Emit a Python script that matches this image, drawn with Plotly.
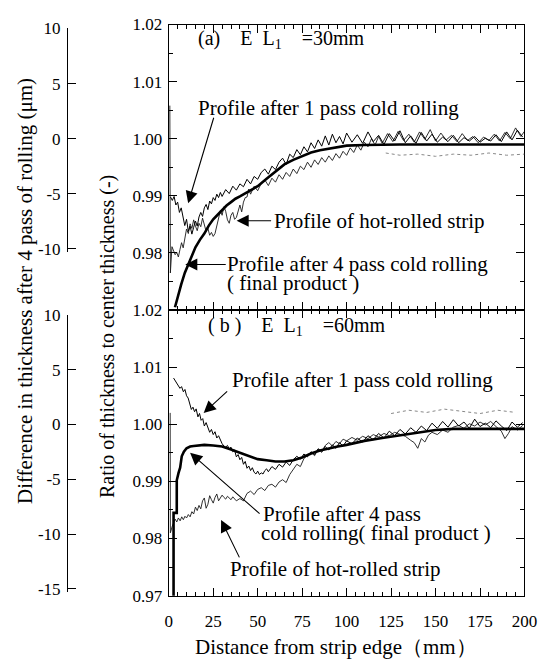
import plotly.graph_objects as go

FONT = "Liberation Serif, Times New Roman, serif"
W, H = 552, 661

# ---------------- Panel (a): EL1 = 30 mm ----------------
a_final_x = [3.5, 5, 7, 9, 11, 13, 15, 17.5, 20, 22.5, 25, 27.5, 30, 32.5, 35, 37.5, 40, 45, 50, 55,
             60, 65, 70, 75, 80, 85, 90, 95, 100, 110, 120, 130, 140, 150, 160, 170, 180, 190, 200]
a_final_y = [0.9705, 0.9724, 0.9745, 0.9765, 0.9781, 0.9796, 0.9810, 0.9823, 0.9834, 0.9848, 0.9859,
             0.9867, 0.9875, 0.9883, 0.9889, 0.9895, 0.9899, 0.9908, 0.9917, 0.9930, 0.9943, 0.9955,
             0.9963, 0.9970, 0.9976, 0.9980, 0.9983, 0.9986, 0.9988, 0.9989, 0.9990, 0.9990, 0.9990,
             0.9990, 0.9990, 0.9990, 0.9990, 0.9990, 0.9990]

a_pass1_x = [1, 2, 3, 4, 5, 6, 7, 8, 9, 10, 11, 12, 13, 14, 15, 16, 17, 18, 19, 20, 21, 22, 23, 24, 25,
             26, 27, 28, 29, 30, 32, 34, 36, 38, 40, 42, 44, 46, 48, 50, 52, 54, 56, 58, 60, 62, 64, 66,
             68, 70, 72, 74, 76, 78, 80, 82, 84, 86, 88, 90, 92, 94, 96, 98, 100, 103, 106, 109, 112,
             115, 118, 121, 124, 127, 130, 133, 136, 139, 142, 145, 148, 151, 154, 157, 160, 163, 166,
             169, 172, 175, 178, 181, 184, 187, 190, 193, 196, 199]
a_pass1_y = [0.9898, 0.9892, 0.9899, 0.9884, 0.9889, 0.9871, 0.9879, 0.9861, 0.9848, 0.9859, 0.9838,
             0.9847, 0.9833, 0.9845, 0.9856, 0.9847, 0.9863, 0.9871, 0.9864, 0.9879, 0.9885, 0.9876,
             0.9891, 0.9886, 0.9897, 0.9892, 0.9903, 0.9897, 0.9906, 0.9899, 0.9911, 0.9904, 0.9917,
             0.9910, 0.9921, 0.9916, 0.9929, 0.9921, 0.9934, 0.9929, 0.9941, 0.9947, 0.9938, 0.9952,
             0.9946, 0.9959, 0.9966, 0.9955, 0.9973, 0.9967, 0.9981, 0.9972, 0.9986, 0.9977, 0.9993,
             0.9983, 0.9998, 0.9987, 1.0005, 0.9989, 1.0008, 0.9993, 1.0004, 0.9991, 1.0010, 0.9994,
             1.0007, 0.9992, 1.0012, 0.9995, 1.0006, 0.9990, 1.0009, 0.9996, 1.0014, 0.9993, 1.0005,
             0.9992, 1.0011, 0.9996, 1.0008, 0.9994, 1.0003, 0.9995, 1.0006, 0.9993, 1.0002, 0.9996,
             1.0004, 0.9994, 1.0001, 0.9996, 1.0007, 0.9995, 1.0012, 0.9998, 1.0015, 1.0003]

a_hot_x = [0.6, 0.9, 1.8, 2.7, 3.6, 4.5, 5.4, 6.3, 7.2, 8.1, 9, 10, 11, 12, 13, 14, 15, 16, 17, 18, 19,
           20, 21, 22, 23, 24, 25, 26, 27, 28, 29, 30, 31, 32, 33, 34, 35, 36, 37, 38, 39, 40, 41, 42,
           43, 44, 45, 46, 48, 50, 52, 54, 56, 58, 60, 62, 64, 66, 68, 70, 72, 74, 76, 78, 80, 82, 84,
           86, 88, 90, 92, 94, 96, 98, 100, 102, 104, 106, 108, 110, 112, 114, 116, 118, 120, 123, 126,
           129, 132, 135, 138, 141, 144, 147, 150, 153, 156, 159, 162, 165, 168, 171, 174, 177, 180,
           183, 186, 189, 192, 195, 198, 200]
a_hot_y = [1.0058, 0.9765, 0.9811, 0.9803, 0.9797, 0.9801, 0.9793, 0.9806, 0.9818, 0.9809, 0.9829,
           0.9842, 0.9834, 0.9851, 0.9843, 0.9858, 0.9847, 0.9839, 0.9852, 0.9846, 0.9861, 0.9849,
           0.9838, 0.9843, 0.9831, 0.9836, 0.9829, 0.9834, 0.9848, 0.9861, 0.9874, 0.9866, 0.9881,
           0.9873, 0.9858, 0.9852, 0.9866, 0.9871, 0.9859, 0.9862, 0.9876, 0.9884, 0.9872, 0.9889,
           0.9897, 0.9898, 0.9912, 0.9903, 0.9917, 0.9909, 0.9922, 0.9928, 0.9918, 0.9931, 0.9924,
           0.9937, 0.9929, 0.9941, 0.9934, 0.9947, 0.9939, 0.9952, 0.9946, 0.9959, 0.9950, 0.9963,
           0.9955, 0.9967, 0.9959, 0.9970, 0.9962, 0.9974, 0.9966, 0.9978, 0.9971, 0.9984, 0.9976,
           0.9989, 0.9980, 0.9994, 0.9986, 1.0000, 0.9989, 1.0004, 0.9992, 1.0009, 0.9995, 1.0013,
           0.9997, 1.0008, 0.9994, 1.0012, 0.9999, 1.0016, 0.9996, 1.0010, 0.9998, 1.0006, 0.9995,
           1.0009, 0.9997, 1.0004, 0.9993, 1.0003, 0.9997, 1.0008, 0.9996, 1.0011, 1.0000, 1.0019,
           1.0004, 1.0013]

# faint dotted difference trace (um, left axis)
a_diff_x = [122, 130, 140, 150, 160, 170, 180, 190, 200]
a_diff_y = [-1.3, -1.5, -1.4, -1.6, -1.4, -1.5, -1.3, -1.5, -1.4]

# ---------------- Panel (b): EL1 = 60 mm ----------------
b_final_x = [2.7, 2.7, 4.5, 4.5, 5.5, 6.4, 7.3, 8.5, 10, 12, 14, 16.4, 20, 25, 30, 35, 40, 45, 50, 55,
             60, 65, 70, 75, 80, 85, 90, 95, 100, 110, 120, 130, 140, 150, 160, 170, 180, 190, 200]
b_final_y = [0.9694, 0.9845, 0.9845, 0.9902, 0.9915, 0.9924, 0.9944, 0.9952, 0.9958, 0.9961, 0.9962,
             0.9963, 0.9964, 0.9963, 0.9961, 0.9956, 0.9950, 0.9944, 0.9939, 0.9937, 0.9935, 0.9935,
             0.9937, 0.9942, 0.9949, 0.9954, 0.9958, 0.9961, 0.9964, 0.9971, 0.9976, 0.9981, 0.9986,
             0.9990, 0.9992, 0.9992, 0.9992, 0.9992, 0.9992]

b_pass1_x = [2.7, 3.6, 4.5, 5.4, 6.3, 7.2, 8.2, 9.1, 10, 10.9, 11.8, 12.7, 13.6, 14.5, 15.4, 16.4, 17.3,
             18.2, 19.1, 20, 21, 22, 23, 24, 25, 26, 27, 28, 29, 30, 31, 32, 33, 34, 35, 36, 37, 38,
             39, 40, 41, 42, 43, 44, 45, 46, 47, 48, 49, 50, 51, 52, 53, 54, 55, 56, 58, 60, 62, 64,
             66, 68, 70, 72, 74, 76, 78, 80, 82, 84, 86, 88, 90, 92, 94, 96, 98, 100, 103, 106, 109,
             112, 115, 118, 121, 124, 127, 130, 133, 136, 139, 142, 145, 148, 151, 154, 157, 160, 163,
             166, 169, 172, 175, 178, 181, 184, 187, 190, 193, 196, 199]
b_pass1_y = [1.0081, 1.0077, 1.0072, 1.0068, 1.0063, 1.0066, 1.0057, 1.0061, 1.0050, 1.0046, 1.0035,
             1.0026, 1.0030, 1.0022, 1.0027, 1.0013, 1.0019, 1.0007, 1.0010, 0.9997, 1.0003, 0.9996,
             0.9986, 0.9991, 0.9982, 0.9987, 0.9976, 0.9980, 0.9971, 0.9966, 0.9962, 0.9960, 0.9963,
             0.9957, 0.9960, 0.9952, 0.9955, 0.9943, 0.9947, 0.9938, 0.9942, 0.9930, 0.9935, 0.9923,
             0.9927, 0.9919, 0.9924, 0.9916, 0.9913, 0.9918, 0.9912, 0.9915, 0.9913, 0.9919, 0.9922,
             0.9917, 0.9926, 0.9921, 0.9930, 0.9925, 0.9934, 0.9928, 0.9938, 0.9944, 0.9939, 0.9948,
             0.9943, 0.9952, 0.9947, 0.9957, 0.9951, 0.9961, 0.9955, 0.9964, 0.9958, 0.9968, 0.9962,
             0.9971, 0.9966, 0.9976, 0.9969, 0.9980, 0.9973, 0.9984, 0.9976, 0.9988, 0.9980, 0.9991,
             0.9983, 0.9994, 0.9986, 0.9997, 0.9989, 1.0002, 0.9993, 1.0005, 0.9995, 1.0008, 0.9997,
             1.0004, 0.9993, 1.0009, 0.9996, 1.0002, 0.9994, 1.0006, 0.9997, 0.9989, 1.0004, 0.9995,
             1.0003]

b_hot_x = [0.8, 0.9, 2.0, 3.6, 4.5, 5.4, 6.4, 7.3, 8.2, 9.1, 10, 11, 12, 13, 14, 15, 16, 17, 18, 19, 20,
           21, 22, 23, 24, 25, 26, 27, 28, 29, 30, 31, 32, 33, 34, 35, 36, 38, 40, 42, 44, 46, 48, 50,
           52, 54, 56, 58, 60, 62, 64, 66, 68, 70, 72, 74, 76, 78, 80, 82, 84, 86, 88, 90, 92, 94, 96,
           98, 100, 103, 106, 109, 112, 115, 118, 121, 124, 127, 130, 133, 136, 138, 140, 142, 144,
           146, 148, 151, 154, 157, 160, 163, 166, 169, 172, 175, 178, 181, 184, 187, 189, 191, 193,
           196, 199]
b_hot_y = [1.0020, 0.9810, 0.9822, 0.9834, 0.9829, 0.9836, 0.9831, 0.9838, 0.9833, 0.9839, 0.9836,
           0.9842, 0.9838, 0.9847, 0.9843, 0.9855, 0.9849, 0.9858, 0.9852, 0.9866, 0.9871, 0.9853,
           0.9860, 0.9875, 0.9868, 0.9862, 0.9872, 0.9878, 0.9866, 0.9870, 0.9876, 0.9872, 0.9869,
           0.9874, 0.9871, 0.9868, 0.9873, 0.9866, 0.9870, 0.9866, 0.9879, 0.9883, 0.9877, 0.9886,
           0.9889, 0.9884, 0.9893, 0.9895, 0.9890, 0.9899, 0.9903, 0.9898, 0.9912, 0.9922, 0.9930,
           0.9926, 0.9940, 0.9946, 0.9951, 0.9945, 0.9957, 0.9953, 0.9963, 0.9968, 0.9962, 0.9970,
           0.9966, 0.9974, 0.9971, 0.9977, 0.9972, 0.9979, 0.9975, 0.9982, 0.9978, 0.9984, 0.9980,
           0.9986, 0.9982, 0.9979, 0.9972, 0.9968, 0.9958, 0.9975, 0.9969, 0.9981, 0.9986, 0.9982,
           0.9990, 0.9986, 0.9995, 0.9998, 0.9993, 1.0001, 0.9997, 1.0004, 0.9999, 1.0005, 0.9996,
           0.9988, 0.9975, 0.9984, 0.9996, 0.9990, 0.9998]

b_diff_x = [125, 135, 145, 155, 165, 175, 185, 195]
b_diff_y = [1.0, 1.3, 1.1, 1.4, 1.2, 1.0, 1.3, 1.1]

# ---------------- ticks ----------------
x_ticks = [0, 25, 50, 75, 100, 125, 150, 175, 200]
ratio_ticks_a = [0.98, 0.99, 1.00, 1.01, 1.02]
ratio_ticks_b = [0.97, 0.98, 0.99, 1.00, 1.01, 1.02]
diff_ticks_a = [-10, -5, 0, 5, 10]
diff_text_a = ["-10", "-5", "0", "5", "10"]
diff_ticks_b = [-15, -10, -5, 0, 5, 10]
diff_text_b = ["-15", "-10", "-5", "0", "5", "10"]

BOUND = 310  # pixel row of the shared border between the panels


def px(ix):
    return ix / W


def py(iy):
    return 1 - iy / H


fig = go.Figure()
thin = dict(color="black", width=1)
thick = dict(color="black", width=2.6)
hot = dict(color="#1a1a1a", width=0.9)
dotted = dict(color="#888888", width=1, dash="dot")

fig.add_trace(go.Scatter(x=a_hot_x, y=a_hot_y, mode="lines", line=hot, xaxis="x2", yaxis="y2",
                         name="Profile of hot-rolled strip (a)"))
fig.add_trace(go.Scatter(x=a_pass1_x, y=a_pass1_y, mode="lines", line=thin, xaxis="x2", yaxis="y2",
                         name="Profile after 1 pass (a)"))
fig.add_trace(go.Scatter(x=a_final_x, y=a_final_y, mode="lines", line=thick, xaxis="x2", yaxis="y2",
                         name="Profile after 4 pass (a)"))
fig.add_trace(go.Scatter(x=a_diff_x, y=a_diff_y, mode="lines", line=dotted, xaxis="x2", yaxis="y3",
                         name="Difference (a)"))

fig.add_trace(go.Scatter(x=b_hot_x, y=b_hot_y, mode="lines", line=hot, xaxis="x", yaxis="y",
                         name="Profile of hot-rolled strip (b)"))
fig.add_trace(go.Scatter(x=b_pass1_x, y=b_pass1_y, mode="lines", line=thin, xaxis="x", yaxis="y",
                         name="Profile after 1 pass (b)"))
fig.add_trace(go.Scatter(x=b_final_x, y=b_final_y, mode="lines", line=thick, xaxis="x", yaxis="y",
                         name="Profile after 4 pass (b)"))
fig.add_trace(go.Scatter(x=b_diff_x, y=b_diff_y, mode="lines", line=dotted, xaxis="x", yaxis="y4",
                         name="Difference (b)"))

tickfont = dict(family=FONT, size=17, color="black")
xdom = [px(170), px(537)]
common_x = dict(range=[0, 200], tickvals=x_ticks, ticks="inside", ticklen=8, tickwidth=1,
                tickcolor="black", showline=True, linecolor="black", linewidth=1, mirror="ticks",
                showgrid=False, zeroline=False, tickfont=tickfont,
                minor=dict(dtick=5, tick0=0, ticks="inside", ticklen=4, tickcolor="black"))
common_ratio = dict(range=[0.97, 1.02], ticks="inside", ticklen=8, tickwidth=1, tickcolor="black",
                    showline=True, linecolor="black", linewidth=1, mirror="ticks", showgrid=False,
                    zeroline=False, tickformat=".2f", tickfont=tickfont, ticklabelstandoff=2,
                    minor=dict(dtick=0.005, tick0=0.97, ticks="inside", ticklen=4, tickcolor="black"))
common_diff = dict(anchor="free", position=px(65), side="left", ticks="inside", ticklen=8,
                   tickcolor="black", showline=True, linecolor="black", linewidth=1, showgrid=False,
                   zeroline=False, tickfont=tickfont, ticklabelstandoff=3)

fig.update_layout(
    width=W, height=H, margin=dict(l=0, r=0, t=0, b=0),
    paper_bgcolor="white", plot_bgcolor="rgba(0,0,0,0)", showlegend=False,
    font=dict(family=FONT, color="black"),
    xaxis=dict(domain=xdom, anchor="y", ticklabelstandoff=10, **common_x),
    xaxis2=dict(domain=xdom, anchor="y2", matches="x", showticklabels=False, **common_x),
    yaxis=dict(domain=[py(604), py(BOUND)], anchor="x", tickvals=ratio_ticks_b, **common_ratio),
    yaxis2=dict(domain=[py(BOUND), py(16)], anchor="x2", tickvals=ratio_ticks_a, **common_ratio),
    yaxis3=dict(domain=[py(250), py(20)], range=[-10.26, 10], tickvals=diff_ticks_a,
                ticktext=diff_text_a, **common_diff),
    yaxis4=dict(domain=[py(600), py(315)], range=[-15.27, 10], tickvals=diff_ticks_b,
                ticktext=diff_text_b, **common_diff),
)

ann = []


def text(ix, iy, s, size=21):
    ann.append(dict(x=px(ix), y=py(iy), xref="paper", yref="paper", text=s, showarrow=False,
                    xanchor="left", yanchor="middle", font=dict(family=FONT, size=size, color="black")))


def arrow(hx, hy, tx, ty):
    ann.append(dict(x=px(hx), y=py(hy), xref="paper", yref="paper", text="", showarrow=True,
                    ax=tx - hx, ay=ty - hy, arrowhead=2, arrowsize=2.2, arrowwidth=1.1,
                    arrowcolor="black", standoff=0, startstandoff=0))


# panel (a)
text(198, 31, "(a)    E  L<sub>1</sub>    =30mm", 20)
text(198, 102, "Profile after 1 pass cold rolling")
arrow(190, 200, 216, 113)
arrow(240, 218, 276, 218)
text(277, 218, "Profile of hot-rolled strip")
text(228, 263, "Profile after 4 pass cold rolling")
text(228, 282, "( final product )")
arrow(187, 263, 229, 263)

# panel (b)
text(208, 327, "( b )    E  L<sub>1</sub>    =60mm", 20)
text(233, 382, "Profile after 1 pass cold rolling")
arrow(206, 416, 231, 393)
text(265, 520, "Profile after 4 pass")
text(263, 539, "cold rolling( final product )")
arrow(192, 457, 263, 519)
text(231, 577, "Profile of hot-rolled strip")
arrow(224, 526, 243, 565)

# axis titles
ann.append(dict(x=px(21), y=py(290), xref="paper", yref="paper", showarrow=False, textangle=-90,
                xanchor="center", yanchor="middle",
                text="Difference in thickness after 4 pass of rolling (μm)",
                font=dict(family=FONT, size=21, color="black")))
ann.append(dict(x=px(107), y=py(337), xref="paper", yref="paper", showarrow=False, textangle=-90,
                xanchor="center", yanchor="middle",
                text="Ratio of thickness to center thickness (-)",
                font=dict(family=FONT, size=20, color="black")))
ann.append(dict(x=px(343), y=py(657), xref="paper", yref="paper", showarrow=False,
                xanchor="center", yanchor="middle",
                text="Distance from strip edge（mm）",
                font=dict(family=FONT, size=21, color="black")))

fig.update_layout(annotations=ann)
fig.write_html("out.html")
